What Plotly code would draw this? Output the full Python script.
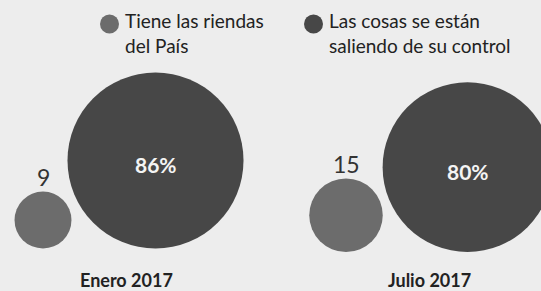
import numpy as np
import plotly.graph_objects as go

# ---- data ----
periods = ["Enero 2017", "Julio 2017"]
series_names = ["Tiene las riendas<br>del País", "Las cosas se están<br>saliendo de su control"]
tiene = [9, 15]
saliendo = [86, 80]

# ---- layout constants (pixels in a 541x291 canvas) ----
W, H = 541, 291
k = 176.0 / np.sqrt(86)            # px diameter per sqrt(value)
sizeref = 2.0 / k ** 2             # plotly area-mode reference
small_x = [43, 346]
big_x = [155.5, 467.5]
base_y = [248.5, 252]
label_x = [126, 429.5]
label_y = 280

C_SMALL = "#6c6c6c"
C_BIG = "#474747"
BG = "#ededed"
TXT = "#222222"
FONT = "Lato"

def diam(v):
    return float(k * np.sqrt(v))

fig = go.Figure()

small_y = [b - diam(v) / 2 for b, v in zip(base_y, tiene)]
big_y = [b - diam(v) / 2 for b, v in zip(base_y, saliendo)]

fig.add_trace(go.Scatter(
    x=small_x, y=small_y, mode="markers",
    marker=dict(size=tiene, sizemode="area", sizeref=sizeref, color=C_SMALL,
                line=dict(width=0), opacity=1),
    hoverinfo="skip", showlegend=False))
fig.add_trace(go.Scatter(
    x=big_x, y=big_y, mode="markers",
    marker=dict(size=saliendo, sizemode="area", sizeref=sizeref, color=C_BIG,
                line=dict(width=0), opacity=1),
    hoverinfo="skip", showlegend=False))

# value labels
for x, y, v in zip(small_x, small_y, tiene):
    fig.add_annotation(x=x, y=y - diam(v) / 2 - 15, text=str(v), showarrow=False,
                       font=dict(family=FONT, size=23, color="#333333"),
                       xanchor="center", yanchor="middle")
for x, y, v in zip(big_x, big_y, saliendo):
    fig.add_annotation(x=x, y=y + 4, text=f"<b>{v}%</b>", showarrow=False,
                       font=dict(family=FONT, size=21, color="#f4f4f4"),
                       xanchor="center", yanchor="middle")

# category labels
for x, p in zip(label_x, periods):
    fig.add_annotation(x=x, y=label_y, text=f"<b>{p}</b>", showarrow=False,
                       font=dict(family=FONT, size=18, color=TXT),
                       xanchor="center", yanchor="middle")

# legend (manual)
leg_dot_x = [109.5, 313.5]
leg_colors = [C_SMALL, C_BIG]
fig.add_trace(go.Scatter(
    x=leg_dot_x, y=[24, 24], mode="markers",
    marker=dict(size=19, color=leg_colors, line=dict(width=0)),
    hoverinfo="skip", showlegend=False))
for x, name in zip(leg_dot_x, series_names):
    fig.add_annotation(x=x + 13, y=33, text=name, showarrow=False, align="left",
                       font=dict(family=FONT, size=19, color=TXT),
                       xanchor="left", yanchor="middle")

fig.update_layout(
    width=W, height=H,
    margin=dict(l=0, r=0, t=0, b=0),
    paper_bgcolor=BG, plot_bgcolor=BG,
    xaxis=dict(range=[0, W], visible=False, fixedrange=True),
    yaxis=dict(range=[H, 0], visible=False, fixedrange=True),
)

fig.write_html("out.html", config={"displayModeBar": False},
               post_script="document.body.style.margin='0';document.body.style.background='%s';" % BG)
